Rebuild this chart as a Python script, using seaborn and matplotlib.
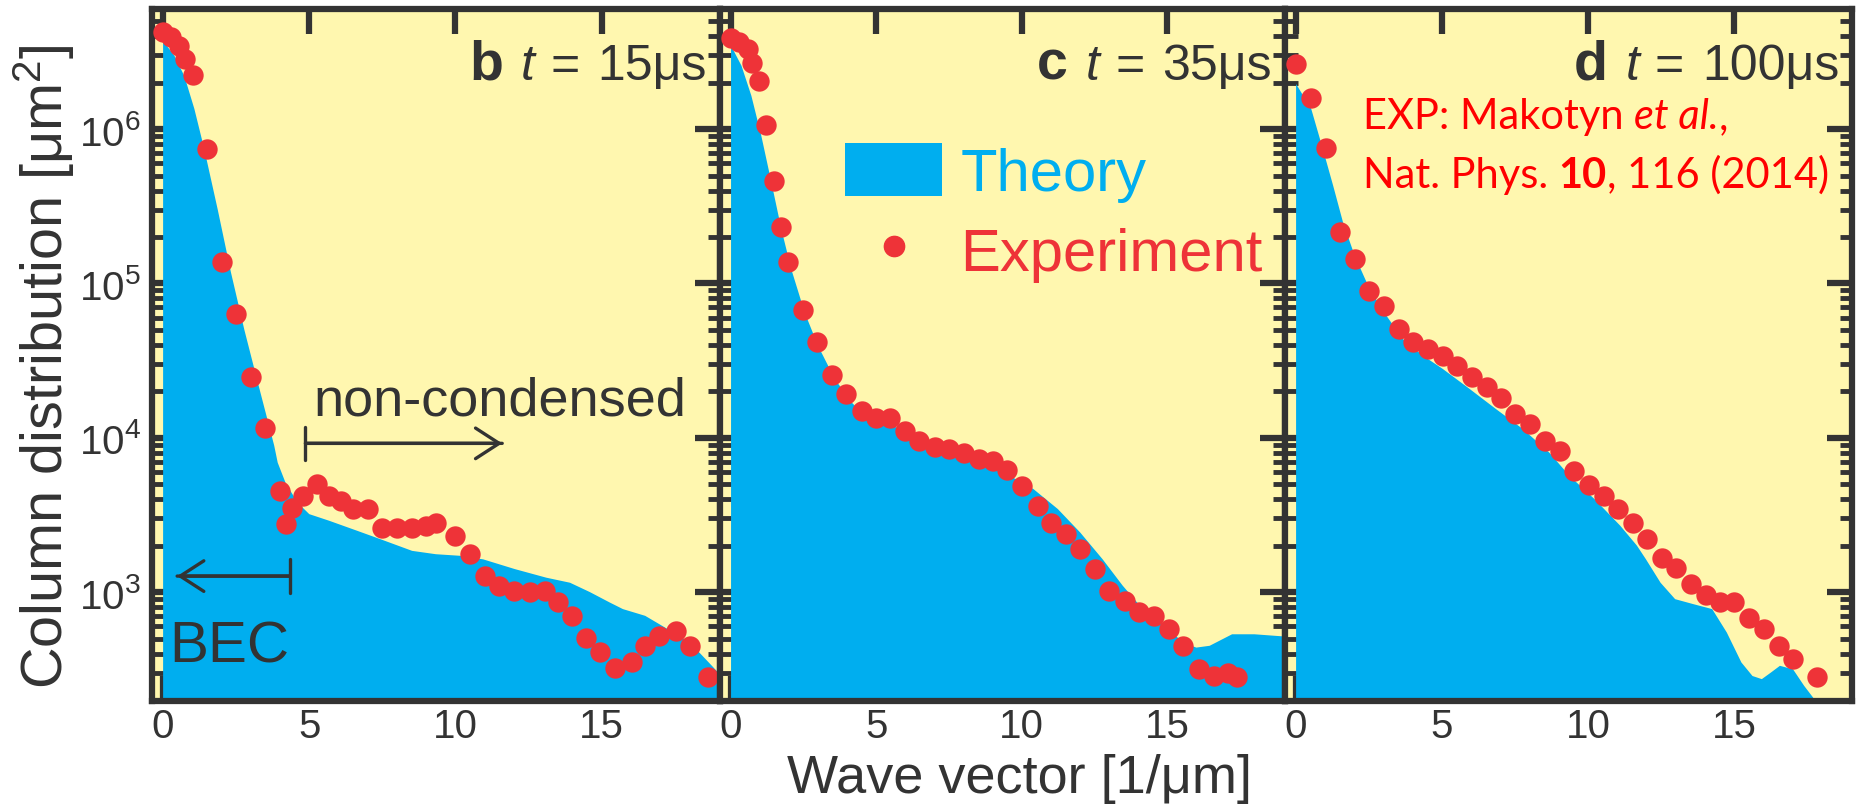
import numpy as np
import pandas as pd
import matplotlib
matplotlib.use("Agg")
import matplotlib.pyplot as plt
import seaborn as sns
from matplotlib.lines import Line2D
from matplotlib.patches import Patch, ArrowStyle
from matplotlib.offsetbox import TextArea, HPacker, VPacker, AnchoredOffsetbox
from matplotlib.ticker import LogLocator, FixedLocator, NullLocator, NullFormatter

# ---------------- data ----------------
panel_letters = ["b", "c", "d"]
panel_times = ["15μs", "35μs", "100μs"]
xticks = [0, 5, 10, 15]

# panel b (t = 15 us)
th_b_k = [0.0, 0.39, 0.73, 1.07, 1.41, 1.87, 2.32, 2.78, 3.24, 3.80, 3.92, 4.19, 4.6, 5.0, 5.68, 6.63,
          7.44, 8.52, 9.33, 10.14, 10.95, 12.03, 13.11, 13.92, 14.6, 15.27, 15.73, 16.49, 17.26, 18.02,
          18.78, 19.1]
th_b = [3.73e6, 2.98e6, 2.2e6, 1.35e6, 7.4e5, 3.0e5, 1.18e5, 5.0e4, 2.28e4, 8.9e3, 6.9e3, 5.1e3,
        3.8e3, 3.2e3, 2.9e3, 2.5e3, 2.2e3, 1.85e3, 1.76e3, 1.72e3, 1.63e3, 1.41e3, 1.24e3, 1.15e3,
        1.0e3, 858, 776, 702, 576, 471, 332, 285]
exp_b_k = [0.0, 0.27, 0.55, 0.75, 1.02, 1.5, 2.0, 2.5, 3.0, 3.5, 4.0, 4.2, 4.4, 4.8, 5.27, 5.68, 6.08,
           6.5, 7.0, 7.5, 8.0, 8.5, 9.0, 9.33, 10.0, 10.5, 11.0, 11.5, 12.0, 12.55, 13.05, 13.5, 14.0,
           14.46, 14.95, 15.45, 16.04, 16.49, 16.95, 17.56, 18.02, 18.63]
exp_b = [4.24e6, 3.93e6, 3.47e6, 2.84e6, 2.24e6, 7.4e5, 1.37e5, 6.3e4, 2.46e4, 1.15e4, 4.53e3, 2.75e3,
         3.53e3, 4.2e3, 5.0e3, 4.2e3, 3.9e3, 3.45e3, 3.45e3, 2.62e3, 2.62e3, 2.62e3, 2.69e3, 2.82e3,
         2.32e3, 1.76e3, 1.28e3, 1.1e3, 1.02e3, 1.0e3, 1.02e3, 857, 702, 508, 407, 324, 350, 449, 520,
         561, 449, 280]

# panel c (t = 35 us)
th_c_k = [0.0, 0.36, 0.70, 1.04, 1.39, 1.73, 2.07, 2.53, 2.99, 3.57, 4.14, 4.71, 5.87, 6.94, 8.02,
          8.94, 9.71, 10.4, 11.24, 12.01, 12.78, 13.47, 14.16, 14.93, 15.54, 16.0, 16.46, 17.23, 18.0,
          18.77, 19.1]
th_c = [3.47e6, 2.57e6, 1.64e6, 9.06e5, 4.5e5, 2.25e5, 1.24e5, 6.5e4, 3.95e4, 2.4e4, 1.7e4, 1.32e4,
        1.14e4, 8.9e3, 7.6e3, 6.6e3, 5.5e3, 4.65e3, 3.45e3, 2.43e3, 1.63e3, 1.1e3, 776, 604, 471, 437,
        449, 533, 533, 520, 515]
exp_c_k = [0.0, 0.26, 0.57, 0.72, 0.95, 1.21, 1.46, 1.72, 1.97, 2.46, 2.97, 3.47, 3.97, 4.49, 4.98,
           5.48, 5.99, 6.48, 7.02, 7.51, 8.02, 8.51, 9.02, 9.48, 10.01, 10.55, 11.01, 11.52, 12.01,
           12.5, 13.01, 13.55, 14.04, 14.54, 15.05, 15.54, 16.08, 16.62, 17.08, 17.39]
exp_c = [3.87e6, 3.65e6, 3.3e6, 2.7e6, 2.06e6, 1.06e6, 4.6e5, 2.33e5, 1.38e5, 6.7e4, 4.15e4, 2.55e4,
         1.93e4, 1.5e4, 1.35e4, 1.35e4, 1.11e4, 9.55e3, 8.65e3, 8.4e3, 8.0e3, 7.3e3, 7.1e3, 6.2e3,
         4.9e3, 3.6e3, 2.82e3, 2.37e3, 1.9e3, 1.41e3, 1.02e3, 879, 738, 702, 576, 449, 316, 286, 301, 280]

# panel d (t = 100 us)
th_d_k = [0.0, 0.52, 0.92, 1.27, 1.61, 2.01, 2.52, 3.09, 3.66, 4.35, 5.03, 5.95, 6.86, 7.77, 8.68,
          9.37, 10.23, 11.11, 11.68, 11.99, 12.49, 12.99, 13.63, 14.26, 14.76, 15.26, 15.64, 15.96,
          16.27, 16.58, 17.03, 17.41, 17.72, 17.9]
th_d = [1.96e6, 1.35e6, 7.4e5, 4.3e5, 2.48e5, 1.51e5, 9.2e4, 6.2e4, 4.36e4, 3.4e4, 2.79e4, 2.07e4,
        1.53e4, 1.14e4, 8.0e3, 5.66e3, 4.0e3, 2.69e3, 2.0e3, 1.63e3, 1.15e3, 900, 834, 776, 547, 350,
        286, 273, 301, 333, 316, 247, 207, 150]
exp_d_k = [0.0, 0.52, 1.02, 1.5, 2.01, 2.51, 3.01, 3.52, 4.02, 4.53, 5.03, 5.53, 6.04, 6.54, 7.01,
           7.51, 8.02, 8.52, 9.03, 9.53, 10.03, 10.54, 11.04, 11.55, 12.01, 12.55, 13.02, 13.52,
           14.03, 14.51, 15.01, 15.52, 16.02, 16.55, 17.03, 17.85]
exp_d = [2.64e6, 1.6e6, 7.5e5, 2.16e5, 1.44e5, 8.95e4, 7.1e4, 5.06e4, 4.15e4, 3.75e4, 3.4e4, 2.93e4,
         2.46e4, 2.12e4, 1.8e4, 1.42e4, 1.22e4, 9.55e3, 8.2e3, 6.1e3, 4.93e3, 4.2e3, 3.45e3, 2.82e3,
         2.2e3, 1.67e3, 1.44e3, 1.13e3, 955, 858, 858, 684, 581, 449, 367, 280]

theory = [(th_b_k, th_b), (th_c_k, th_c), (th_d_k, th_d)]
experiment = [(exp_b_k, exp_b), (exp_c_k, exp_c), (exp_d_k, exp_d)]

# ---------------- style ----------------
BG = "#FFF7AF"
BLUE = "#00AEEF"
RED = "#EE3338"
DARK = "#333333"

sns.set_theme(style="ticks")
plt.rcParams["font.family"] = ["Liberation Sans", "DejaVu Sans"]
plt.rcParams["mathtext.fontset"] = "custom"
plt.rcParams["mathtext.rm"] = "Liberation Sans"
plt.rcParams["mathtext.it"] = "Liberation Sans:italic"
plt.rcParams["mathtext.bf"] = "Liberation Sans:bold"

W, H = 1857, 812
fig = plt.figure(figsize=(W / 100, H / 100), dpi=100)

# panel pixel extents (left, right), shared top/bottom
px = [(152, 720), (720, 1285), (1285, 1852)]
top_px, bot_px = 10, 702
AH = bot_px - top_px
axes = []
for (l, r) in px:
    ax = fig.add_axes([l / W, 1 - bot_px / H, (r - l) / W, AH / H])
    axes.append(ax)

for i, ax in enumerate(axes):
    ax.set_facecolor(BG)
    ax.set_yscale("log")
    k, v = theory[i]
    ax.fill_between(k, v, 1e-2, color=BLUE, linewidth=0, zorder=2)
    ek, ev = experiment[i]
    df = pd.DataFrame({"k": ek, "n": ev})
    sns.scatterplot(data=df, x="k", y="n", ax=ax, color=RED, s=215, linewidth=0, zorder=3)
    ax.set_xlim(-0.38, 19.05)
    ax.set_ylim(197, 6.0e6)
    ax.set_xlabel("")
    ax.set_ylabel("")
    ax.xaxis.set_major_locator(FixedLocator(xticks))
    ax.xaxis.set_minor_locator(NullLocator())
    ax.yaxis.set_major_locator(LogLocator(base=10, numticks=12))
    ax.yaxis.set_minor_locator(LogLocator(base=10, subs=np.arange(2, 10), numticks=12))
    ax.yaxis.set_minor_formatter(NullFormatter())
    ax.tick_params(which="major", direction="in", length=18, width=4.5, color=DARK,
                   top=True, right=True, bottom=True, left=True,
                   labelsize=29, labelcolor=DARK)
    ax.tick_params(axis="x", which="major", pad=4.6)
    ax.tick_params(axis="y", which="major", pad=8)
    ax.tick_params(which="minor", direction="in", length=9, width=3.5, color=DARK,
                   left=True, right=True, top=False, bottom=False)
    ax.tick_params(axis="y", labelleft=(i == 0))
    for s in ax.spines.values():
        s.set_linewidth(4.5)
        s.set_color(DARK)

    # panel title: bold letter, italic t, regular rest
    letter = TextArea(panel_letters[i], textprops=dict(fontsize=40, color=DARK, fontweight="bold"))
    t_part = TextArea("t", textprops=dict(fontsize=36, color=DARK, fontstyle="italic"))
    eq_part = TextArea("=", textprops=dict(fontsize=36, color=DARK))
    time_part = TextArea(panel_times[i], textprops=dict(fontsize=36, color=DARK))
    mid = HPacker(children=[t_part, eq_part], align="baseline", pad=0, sep=11)
    hp = HPacker(children=[letter, mid, time_part], align="baseline", pad=0, sep=13)
    w_ax = px[i][1] - px[i][0]
    ab = AnchoredOffsetbox(loc="upper right", child=hp, pad=0, borderpad=0, frameon=False,
                           bbox_to_anchor=(1 - 13 / w_ax, 1 - 30 / AH),
                           bbox_transform=ax.transAxes)
    ax.add_artist(ab)

ax_b, ax_c, ax_d = axes

# labels
ax_b.set_ylabel("Column distribution [μm$^{2}$]", fontsize=41.5, color=DARK)
ax_b.yaxis.set_label_coords(-0.132, 0.484)
ax_c.set_xlabel("Wave vector [1/μm]", fontsize=39, color=DARK)
ax_c.xaxis.set_label_coords(0.53, -0.0755)

# annotations in panel b
ax_b.text(5.15, 1.42e4, "non-condensed", fontsize=39, color=DARK, ha="left", va="baseline")
ax_b.text(0.2, 357, "BEC", fontsize=42, color=DARK, ha="left", va="baseline")
head = ArrowStyle("->", head_length=0.85, head_width=0.55)
bar = ArrowStyle("]-", widthA=0.6, lengthA=0.0)
for (x0, x1, yy) in [(4.87, 11.6, 9.2e3), (4.33, 0.48, 1.27e3)]:
    for st in (head, bar):
        ax_b.annotate("", xy=(x1, yy), xytext=(x0, yy),
                      arrowprops=dict(arrowstyle=st, color=DARK, lw=2.4, mutation_scale=20,
                                      shrinkA=0, shrinkB=0))

# legend in panel c
handles = [Patch(facecolor=BLUE, edgecolor="none"),
           Line2D([], [], marker="o", linestyle="none", color=RED, markersize=14.6)]
ax_c.legend(handles, ["Theory", "Experiment"], loc="upper left", bbox_to_anchor=(0.221, 0.807),
            frameon=False, fontsize=43, labelcolor=[BLUE, RED], handlelength=1.63,
            handleheight=1.0, handletextpad=0.3, labelspacing=0.35, borderpad=0, borderaxespad=0)

# reference text in panel d
fam = ["Lato", "DejaVu Sans"]
tp = dict(fontsize=30, color="#FF0000", family=fam)
line1 = HPacker(children=[TextArea("EXP: Makotyn ", textprops=tp),
                          TextArea("et al.", textprops=dict(tp, fontstyle="italic")),
                          TextArea(",", textprops=tp)], align="baseline", pad=0, sep=0)
line2 = HPacker(children=[TextArea("Nat. Phys. ", textprops=tp),
                          TextArea("10", textprops=dict(tp, fontweight="bold")),
                          TextArea(", 116 (2014)", textprops=tp)], align="baseline", pad=0, sep=0)
vp = VPacker(children=[line1, line2], align="left", pad=0, sep=14)
ab = AnchoredOffsetbox(loc="upper left", child=vp, pad=0, borderpad=0, frameon=False,
                       bbox_to_anchor=(0.1376, 1 - 88 / AH),
                       bbox_transform=ax_d.transAxes)
ax_d.add_artist(ab)

fig.savefig("out.png", dpi=100, facecolor="white")
